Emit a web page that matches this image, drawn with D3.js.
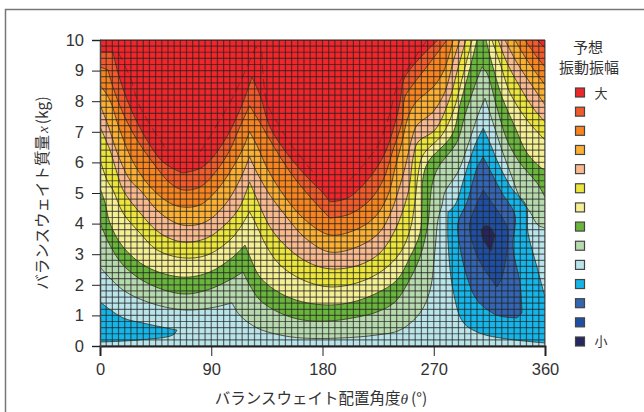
<!DOCTYPE html>
<html>
<head>
<meta charset="utf-8">
<script src="https://cdn.jsdelivr.net/npm/d3@7"></script>
<style>
  body { margin: 0; background: #fff; }
  text { font-family: "Noto Sans CJK JP", "Noto Sans", sans-serif; fill: #333; }
  .tick text { font-family: "Liberation Sans", sans-serif; font-size: 16.5px; fill: #333; }
</style>
</head>
<body>
<div id="chart"></div>
<script>
// tick labels
const angleTicks = [0, 90, 180, 270, 360];
const massTicks = [0, 1, 2, 3, 4, 5, 6, 7, 8, 9, 10];

// legend colours, big amplitude to small
const bandColors = ["#f0262a", "#f15a29", "#f7841f", "#fbb034", "#f9b98f", "#ece63c", "#f5ef94",
  "#6ab53c", "#b7d9ae", "#b9e4ea", "#14b6ea", "#3465b2", "#1f4fa5", "#262660"];

// contour lines, [angle deg, mass kg]
const c1Left = [[0,9.61],[10.5,9.61],[14.6,8.92],[24.3,7.81],[38,6.73],[51,6.01],[67,5.65],[83,5.85],[99.5,6.63],[113,7.7],[123,8.78],[129.4,8.2],[137.5,7.16],[151,6.31],[167.5,5.52],[180.4,5],[186,4.71],[200.6,4.84],[218.4,5.52],[230.6,6.31],[238.7,7.29],[242.7,7.97],[246.7,8.79],[273.4,10]];
const c1Right = [[353.5,10],[360,9.74]];
const c2Left = [[0,9.12],[6.5,9.02],[10.5,8.46],[18.6,7.61],[30,6.73],[43,5.98],[56.6,5.33],[67,5.1],[81,5.2],[94.7,5.75],[105,6.4],[113,7.15],[121,7.85],[129.4,7.3],[137.5,6.73],[153.7,5.69],[170,4.87],[186,4.18],[202,4.31],[218.4,4.77],[229,5.42],[237,6.4],[244.3,7.32],[246.7,8.14],[253,8.53],[265.4,9.18],[280.7,10]];
const c2Right = [[343.8,10],[353.5,9.44],[360,9.12]];
const c3Left = [[0,8.53],[8,8.04],[16,7.06],[28,5.92],[43,5.1],[56.6,4.67],[67,4.54],[81,4.61],[94.7,5.1],[106.8,5.8],[115,6.4],[121,7],[127,6.55],[136,5.75],[149.7,4.87],[166,4.12],[186,3.63],[206.3,3.79],[222.5,4.22],[233,4.93],[238.7,5.82],[244.3,6.67],[249,7.45],[255,7.94],[271,8.53],[279,9.08],[285.6,10]];
const c3Right = [[335.7,10],[345.4,9.35],[360,8.53]];
const c4Left = [[0,7.88],[6.5,7.22],[14.6,6.24],[24.3,5.42],[32.4,5.1],[48.5,4.35],[67,3.95],[85,4.05],[101,4.61],[113,5.42],[121,6.18],[127.8,5.6],[137.5,4.93],[149.7,4.28],[166,3.53],[186,3.07],[210,3.27],[226.5,3.73],[236,4.44],[241,5.03],[246.7,5.82],[252.4,6.8],[256.5,7.22],[269.4,7.65],[279,8.3],[285.6,9.28],[291.2,10]];
const c4Right = [[327.6,10],[337.4,9.25],[348,8.6],[360,7.88]];
const c5Left = [[0,7.16],[8,6.41],[13.8,5.65],[18.6,5.1],[32.4,4.35],[48.5,3.69],[67,3.4],[86.6,3.53],[102.7,4.02],[113,4.54],[121,5.36],[125.4,4.95],[137.5,3.89],[151,3.24],[167.5,2.75],[186,2.52],[210,2.65],[226.5,3.04],[238.7,3.79],[248.4,4.87],[250.8,5.36],[253.2,6.14],[257.3,6.67],[271,7.06],[283,8.1],[289.6,9.08],[296,10]];
const c5Right = [[322,10],[329.3,9.25],[339.8,8.46],[350.3,7.78],[360,7.32]];
const c6Left = [[0,6.08],[5.7,5.42],[10.5,5.1],[18.6,4.35],[32.4,3.69],[46,3.14],[67,2.88],[86.6,2.97],[105,3.46],[113,3.85],[121,4.38],[125.4,4.05],[135,3.24],[145.6,2.65],[164,2.16],[186,1.93],[210,2.09],[229,2.48],[242.7,3.04],[250.8,3.79],[254.8,4.71],[257.3,5.59],[261.3,6.24],[276.7,6.9],[285.6,7.65],[293.7,8.86],[301,10]];
const c6Right = [[317,10],[323.6,9.25],[331.7,8.27],[345.4,7.39],[360,6.73]];
const c7Left = [[0,5.15],[4,4.7],[8,4.02],[18.6,3.24],[38,2.58],[67,2.25],[89,2.42],[107.6,2.91],[117.3,3.3],[121,2.95],[129.4,2.25],[145.6,1.73],[164,1.44],[186,1.34],[204.7,1.44],[224,1.73],[240.3,2.16],[250.8,2.91],[258.9,3.69],[260.5,4.71],[261.3,5.49],[265.4,6.01],[284.8,6.9],[291.2,7.88],[299.3,9.08],[305,10]];
const c7Right = [[312.3,10],[317,9.25],[325.2,8.14],[335.7,7.16],[345.4,6.31],[356,5.85],[360,5.75]];
const c8 = [[0,4.02],[8,3.3],[18.6,2.65],[38,2.06],[67,1.7],[86.6,1.83],[105,2.16],[115.7,2.42],[121,2.0],[129.4,1.5],[145.6,1.08],[164,0.85],[186,0.82],[204.7,0.92],[224,1.11],[238.7,1.44],[249,2.06],[258.9,2.91],[265.4,4.02],[267,4.71],[268.6,5.26],[273.4,5.82],[288.8,6.67],[295.3,7.55],[303.4,8.53],[309,9.12],[313,8.92],[321,7.81],[329.3,6.73],[339.8,5.98],[353.5,5.33],[360,4.87]];
const c9 = [[0,2.58],[18.6,1.83],[40.5,1.41],[67,1.18],[89,1.24],[106.8,1.41],[113,1.01],[127,0.59],[145.6,0.36],[164,0.26],[194,0.26],[224,0.36],[242.7,0.52],[258.9,1.08],[267,1.83],[271,3.14],[273.4,4.12],[276.7,4.61],[279,5.03],[289.6,5.69],[297.7,6.57],[305.8,7.55],[311.5,8.1],[318,7.29],[326,6.31],[333.3,5.52],[339.8,4.84],[347.9,4.38],[354.3,3.95],[360,3.86]];
const cyanLow = [[0,1.44],[18.6,0.92],[34.8,0.75],[62.3,0.52],[59,0.36],[32.4,0.2],[0,0.13]];
const cyanRight = [[310,7.12],[303.4,6.57],[295.3,5.59],[287.2,4.61],[281.5,4.38],[281.5,3.46],[285.6,1.83],[293.7,0.78],[307.4,0.42],[329.3,0.23],[360,0.1]];
const cyanRight2 = [[360,1.6],[353.5,2.58],[346.3,3.69],[344.6,4.61],[334,5.1],[323.6,5.85],[315.5,6.63],[310,7.12]];
const midBlue = [[310,6.18],[305,5.82],[297,4.71],[289.6,4.02],[291.2,3.24],[297,2.25],[305,1.5],[321,1.01],[337.4,0.92],[341.4,1.08],[339.8,2.06],[334,3.24],[335.7,4.28],[325.2,5],[315.5,5.75],[310,6.18]];
const darkBlue = [[310,5.1],[299.3,4.05],[299.3,3.69],[307.4,2.75],[321,1.93],[325.2,2.25],[330,3.46],[329.3,3.89],[315.5,4.77],[310,5.1]];
const navy = [[311.5,3.95],[308.2,3.79],[310,3.46],[316.3,3.1],[319.6,3.63],[315.5,3.89],[311.5,3.95]];

// the faint dashed lines inside the red
const dashLeft = [[14.6,9.61],[24.3,8.79],[32.4,7.81],[55,6.34]];
const dashMiddle = [[81,6.34],[105,7.94],[119,9.12],[126,9.77],[131,9.61],[135,7.97],[145.6,7.16],[153.7,6.63],[175.6,5.52]];
const dashRight = [[202,5.42],[224,6.5],[234.6,7.61],[240.3,8.46],[264.5,10]];

// margins so plot sits at x 100..545, y 40..346
const margin = { top: 40, right: 99, bottom: 66, left: 100 },
  width = 644 - margin.left - margin.right,
  height = 412 - margin.top - margin.bottom;

const root = d3.select("#chart").append("svg").attr("width", 644).attr("height", 412);

// outer frame, open at right and bottom
root.append("path").attr("d", "M5.5,412V9.5H644").attr("fill", "none").attr("stroke", "#777").attr("stroke-width", 1.5);

const svg = root.append("g").attr("transform", `translate(${margin.left},${margin.top})`);

const x = d3.scaleLinear().domain([0, 360]).range([0, width]);
const y = d3.scaleLinear().domain([0, 10]).range([height, 0]);

svg.append("clipPath").attr("id", "plot").append("rect").attr("width", width).attr("height", height);

const line = d3.line().x((d) => x(d[0])).y((d) => y(d[1])).curve(d3.curveCatmullRom.alpha(0.5));

// the peaks in the contours are real cusps, so cut the curve wherever it turns hard
function turnAt(a, b, c) {
  const ux = x(b[0]) - x(a[0]), uy = y(b[1]) - y(a[1]);
  const vx = x(c[0]) - x(b[0]), vy = y(c[1]) - y(b[1]);
  return Math.abs(Math.atan2(ux * vy - uy * vx, ux * vx + uy * vy));
}
function contourPath(pts) {
  let out = "";
  let start = 0;
  for (let i = 1; i < pts.length; i++) {
    const end = i === pts.length - 1;
    if (end || turnAt(pts[i - 1], pts[i], pts[i + 1]) > 0.75) {
      const seg = line(pts.slice(start, i + 1));
      out += out ? seg.replace(/^M[^CLZ]*/, "") : seg;
      start = i;
    }
  }
  return out;
}

const plot = svg.append("g").attr("clip-path", "url(#plot)").style("filter", "blur(0.3px)");

// base colour is the pale blue band
plot.append("rect").attr("width", width).attr("height", height).attr("fill", bandColors[9]);

// painted low to high, then the hollows on top. close = corners that shut the shape
const bands = [
  { c: 8, arcs: [c9], close: [[360, 10], [0, 10]] },
  { c: 7, arcs: [c8], close: [[360, 10], [0, 10]] },
  { c: 6, arcs: [c7Left], close: [[0, 10]] },
  { c: 6, arcs: [c7Right], close: [[360, 10]] },
  { c: 5, arcs: [c6Left], close: [[0, 10]] },
  { c: 5, arcs: [c6Right], close: [[360, 10]] },
  { c: 4, arcs: [c5Left], close: [[0, 10]] },
  { c: 4, arcs: [c5Right], close: [[360, 10]] },
  { c: 3, arcs: [c4Left], close: [[0, 10]] },
  { c: 3, arcs: [c4Right], close: [[360, 10]] },
  { c: 2, arcs: [c3Left], close: [[0, 10]] },
  { c: 2, arcs: [c3Right], close: [[360, 10]] },
  { c: 1, arcs: [c2Left], close: [[0, 10]] },
  { c: 1, arcs: [c2Right], close: [[360, 10]] },
  { c: 0, arcs: [c1Left], close: [[0, 10]] },
  { c: 0, arcs: [c1Right], close: [[360, 10]] },
  { c: 10, arcs: [cyanLow], close: [] },
  { c: 10, arcs: [cyanRight, cyanRight2], close: [] },
  { c: 11, arcs: [midBlue], close: [] },
  { c: 12, arcs: [darkBlue], close: [] },
  { c: 13, arcs: [navy], close: [] },
];

function bandPath(b) {
  const parts = b.arcs.map((a, i) => {
    const p = contourPath(a);
    return i === 0 ? p : p.replace(/^M/, "L");
  });
  const tail = b.close.map((d) => `L${x(d[0])},${y(d[1])}`).join("");
  return parts.join("") + tail + "Z";
}

plot.selectAll(".band").data(bands).join("path")
  .attr("class", "band")
  .attr("d", bandPath)
  .attr("fill", (d) => bandColors[d.c]);

// contour lines only along the arcs, not the plot edge
plot.selectAll(".contour").data(bands.flatMap((b) => b.arcs)).join("path")
  .attr("class", "contour")
  .attr("d", contourPath)
  .attr("fill", "none")
  .attr("stroke", "#3a3320")
  .attr("stroke-opacity", 0.8)
  .attr("stroke-width", 1);

plot.selectAll(".dash").data([dashLeft, dashMiddle, dashRight]).join("path")
  .attr("class", "dash")
  .attr("d", contourPath)
  .attr("fill", "none")
  .attr("stroke", "#5a1a14")
  .attr("stroke-opacity", 0.7)
  .attr("stroke-width", 0.8)
  .attr("stroke-dasharray", "9 5");

// mesh, one line every 5 deg and every 0.2 kg
const gridAngles = d3.range(0, 361, 5);
const gridMasses = d3.range(0, 10.01, 0.2);
plot.selectAll(".gx").data(gridAngles).join("line")
  .attr("class", "gx")
  .attr("x1", (d) => x(d)).attr("x2", (d) => x(d))
  .attr("y1", 0).attr("y2", height)
  .attr("stroke", "#222").attr("stroke-opacity", 0.66).attr("stroke-width", 1.2);
plot.selectAll(".gy").data(gridMasses).join("line")
  .attr("class", "gy")
  .attr("y1", (d) => y(d)).attr("y2", (d) => y(d))
  .attr("x1", 0).attr("x2", width)
  .attr("stroke", "#222").attr("stroke-opacity", 0.66).attr("stroke-width", 1.2);

// axes
const xAxis = svg.append("g").attr("transform", `translate(0,${height})`)
  .call(d3.axisBottom(x).tickValues(angleTicks).tickSize(10).tickPadding(7));
xAxis.select(".domain").attr("stroke", "#222").attr("stroke-width", 2);
xAxis.selectAll(".tick line").attr("stroke", "#222");

const yAxis = svg.append("g")
  .call(d3.axisLeft(y).tickValues(massTicks).tickSize(8).tickPadding(8));
yAxis.select(".domain").attr("stroke", "#444").attr("stroke-width", 1.5);
yAxis.selectAll(".tick line").attr("stroke", "#222");

svg.append("line").attr("x1", 0).attr("x2", width).attr("y1", 0).attr("y2", 0).attr("stroke", "#222");
svg.append("line").attr("x1", width).attr("x2", width).attr("y1", 0).attr("y2", height).attr("stroke", "#444");

// axis titles
const xTitle = root.append("text")
  .attr("x", 321).attr("y", 404)
  .attr("text-anchor", "middle")
  .style("font-size", "15.5px");
xTitle.append("tspan").text("バランスウェイト配置角度");
xTitle.append("tspan").attr("font-style", "italic").attr("font-family", "Liberation Serif").text("θ");
xTitle.append("tspan").attr("dx", 3).text("(°)");

const yTitle = root.append("text")
  .attr("transform", "translate(48,193) rotate(-90)")
  .attr("text-anchor", "middle")
  .style("font-size", "15.5px");
yTitle.append("tspan").text("バランスウェイト質量");
yTitle.append("tspan").attr("dx", 2).attr("font-style", "italic").attr("font-family", "Liberation Serif").text("x");
yTitle.append("tspan").attr("dx", 2).text("(kg)");

// legend
root.append("text").attr("x", 588).attr("y", 53).attr("text-anchor", "middle").style("font-size", "15px").text("予想");
root.append("text").attr("x", 589).attr("y", 73).attr("text-anchor", "middle").style("font-size", "15px").text("振動振幅");

const legendY = d3.scalePoint().domain(d3.range(bandColors.length)).range([93, 342]);
root.selectAll(".key").data(bandColors).join("rect")
  .attr("class", "key")
  .attr("x", 575.5)
  .attr("y", (d, i) => legendY(i) - 5)
  .attr("width", 9).attr("height", 9)
  .attr("fill", (d) => d)
  .attr("stroke", "#444").attr("stroke-width", 1.2);

root.append("text").attr("x", 601).attr("y", 98).attr("text-anchor", "middle").style("font-size", "13px").text("大");
root.append("text").attr("x", 601).attr("y", 346).attr("text-anchor", "middle").style("font-size", "13px").text("小");
</script>
</body>
</html>
